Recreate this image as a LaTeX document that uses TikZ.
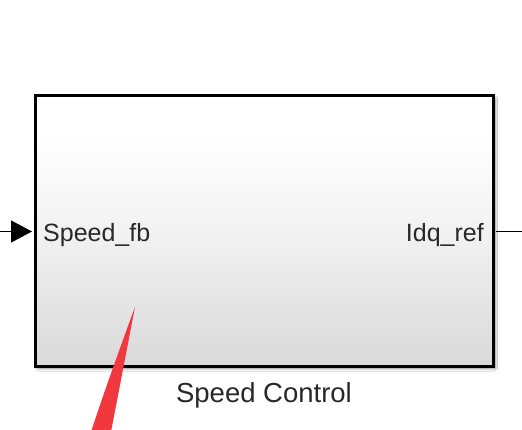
\documentclass[tikz,border=0pt]{standalone}
\usepackage{fontspec}
\setmainfont{Liberation Sans}
\usetikzlibrary{arrows.meta,shadows.blur}
\definecolor{shB}{RGB}{217,217,217}
\definecolor{shM}{RGB}{242,242,242}
\definecolor{wedgered}{RGB}{240,56,62}
\definecolor{txt}{RGB}{40,40,40}
\pgfdeclareverticalshading{blockshade}{100bp}{color(0bp)=(shB); color(25bp)=(shB); color(50bp)=(shM); color(68bp)=(white); color(100bp)=(white)}
\tikzset{
  blockbox/.style={draw=black, line width=3pt, shading=blockshade, inner sep=0pt,
    minimum width=458pt, minimum height=271pt,
    blur shadow={shadow xshift=2.5pt, shadow yshift=-2.5pt, shadow blur steps=6, shadow blur extra rounding=1pt, shadow opacity=45}},
  portlabel/.style={font=\fontsize{25}{28}\selectfont, text=txt, inner sep=0pt},
  blocklabel/.style={font=\fontsize{27.5}{31}\selectfont, text=txt, inner sep=0pt},
  sigline/.style={line width=1.3pt, draw=black},
}
\begin{document}
\begin{tikzpicture}[x=1pt,y=-1pt]
\useasboundingbox (0,0) rectangle (522,430);
\fill[white] (0,0) rectangle (522,430);
\node[blockbox] (blk) at (264,230.9) {};
\node[portlabel, anchor=base west] (pin) at (43,242) {Speed\_fb};
\node[portlabel, anchor=base east] (pout) at (484,242) {Idq\_ref};
\node[blocklabel, anchor=base] (lbl) at (264,402) {Speed Control};
\coordinate (inA) at (0,231.5);
\coordinate (outB) at (522,231.7);
\draw[sigline, -{Triangle[length=21pt,width=22pt]}] (inA) -- ([xshift=-1.5pt]blk.west |- inA);
\draw[sigline] ([xshift=1.5pt]blk.east |- outB) -- (outB);
\fill[wedgered] (135,307) .. controls (121,345) and (103,395) .. (91,432) -- (111,432) -- cycle;
\end{tikzpicture}
\end{document}
